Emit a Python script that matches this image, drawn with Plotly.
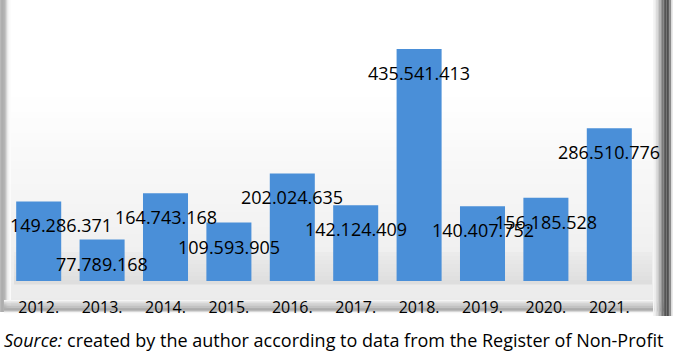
import plotly.graph_objects as go

years = ["2012.", "2013.", "2014.", "2015.", "2016.", "2017.", "2018.", "2019.", "2020.", "2021."]
values = [149286371, 77789168, 164743168, 109593905, 202024635,
          142124409, 435541413, 140407752, 156185528, 286510776]
labels = ["149.286.371", "77.789.168", "164.743.168", "109.593.905", "202.024.635",
          "142.124.409", "435.541.413", "140.407.752", "156.185.528", "286.510.776"]
source_note = "<i>Source:</i> created by the author according to data from the Register of Non-Profit"

W, H = 677, 359
ML, MR, MT, MB = 7, 36, 10, 78
PW, PH = W - ML - MR, H - MT - MB


def px(x):
    return (x - ML) / PW


def py(y):
    return 1 - (y - MT) / PH


def mix(c1, c2, t):
    return "rgb(%d,%d,%d)" % tuple(round(a + (b - a) * t) for a, b in zip(c1, c2))


shapes = []


def rect(x0, y0, x1, y1, color):
    shapes.append(dict(type="rect", xref="paper", yref="paper",
                       x0=px(x0), x1=px(x1), y0=py(y1), y1=py(y0),
                       fillcolor=color, line=dict(width=0), layer="below"))


# panel background gradient (white -> light gray)
rect(0, 0, 672, 314, "white")
n = 30
for i in range(n):
    y0 = 90 + i * (215 / n)
    y1 = y0 + 215 / n + 0.5
    rect(8, y0, 664, y1, mix((255, 255, 255), (235, 235, 235), i / (n - 1)))

# soft shadow band behind lower bars
for i in range(8):
    t = i / 7
    rect(14, 252 + i * 4, 652, 256 + i * 4 + 0.5, mix((235, 235, 235), (222, 222, 222), t))

# left bevel
for i, c in enumerate([185, 160, 150, 170, 195, 215, 232, 245, 252]):
    rect(i * 1.2, 0, i * 1.2 + 1.3, 312, "rgb(%d,%d,%d)" % (c, c, c))
# bottom bevel
for i, c in enumerate([245, 232, 220, 208, 198, 190, 182, 176, 172, 185, 215, 245]):
    rect(4, 300 + i * 1.1, 664, 301.2 + i * 1.1, "rgb(%d,%d,%d)" % (c, c, c))
# right bevel
for i, c in enumerate([245, 235, 220, 200, 178, 150, 122, 100, 85, 80, 95, 140, 220]):
    rect(653 + i * 1.5, 0, 654.6 + i * 1.5, 316, "rgb(%d,%d,%d)" % (c, c, c))

fig = go.Figure()
fig.add_trace(go.Bar(
    x=years, y=values,
    marker=dict(color="#4a8fd8", line=dict(width=0)),
    hoverinfo="skip",
))

annotations = []
for i, (v, lab) in enumerate(zip(values, labels)):
    annotations.append(dict(
        x=i, y=v, xref="x", yref="y", text=lab, showarrow=False,
        yshift=-24, xshift=22 if i == 0 else 0,
        font=dict(family="Open Sans", size=18, color="black"),
    ))

annotations.append(dict(
    x=px(2), y=py(340), xref="paper", yref="paper", text=source_note, showarrow=False,
    xanchor="left", yanchor="middle",
    font=dict(family="Open Sans", size=18, color="black"),
))

fig.update_layout(
    width=W, height=H,
    margin=dict(l=ML, r=MR, t=MT, b=MB, pad=0),
    paper_bgcolor="white", plot_bgcolor="rgba(0,0,0,0)",
    bargap=0.29, showlegend=False,
    shapes=shapes, annotations=annotations,
    xaxis=dict(type="category", showgrid=False, zeroline=False, showline=False,
               ticks="outside", ticklen=12, tickcolor="rgba(0,0,0,0)",
               tickfont=dict(family="Open Sans", size=16, color="black"),
               range=[-0.5, 9.5]),
    yaxis=dict(range=[0, 508.7e6], showgrid=False, zeroline=False,
               showticklabels=False, showline=False),
)

fig.write_html("out.html", config={"displayModeBar": False},
               post_script="document.body.style.margin='0px';")
